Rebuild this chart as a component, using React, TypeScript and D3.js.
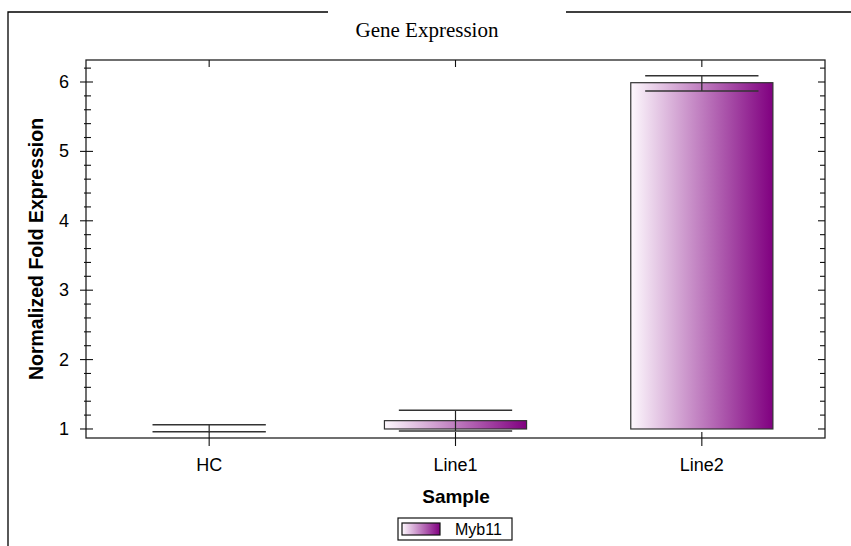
import React from "react";
import * as d3 from "d3";

const samples = ["HC", "Line1", "Line2"];
const foldValues = [1.0, 1.12, 5.99];
const errUpper = [1.06, 1.27, 6.09];
const errLower = [0.96, 0.97, 5.87];
const yTicks = [1, 2, 3, 4, 5, 6];
const seriesName = "Myb11";

const W = 851;
const H = 546;
const left = 86, right = 825, top = 60, bottom = 438;
const sans = "'Liberation Sans', Arial, sans-serif";

export default function App() {
  const ref = React.useRef<SVGSVGElement>(null);

  React.useEffect(() => {
    const svg = d3.select(ref.current);
    svg.selectAll("*").remove();

    const x = d3.scaleBand<string>().domain(samples).range([left, right]).padding(0);
    const y = d3.scaleLinear().domain([0.87, 6.317]).range([bottom, top]);

    const defs = svg.append("defs");
    const grad = defs.append("linearGradient").attr("id", "purpleGrad")
      .attr("x1", "0%").attr("x2", "100%").attr("y1", "0%").attr("y2", "0%");
    grad.append("stop").attr("offset", "0%").attr("stop-color", "#fdf8fd");
    grad.append("stop").attr("offset", "100%").attr("stop-color", "#800080");

    // outer frame
    svg.append("path")
      .attr("d", `M8,546 L8,12 L328,12 M566,12 L851,12`)
      .attr("fill", "none").attr("stroke", "#000").attr("stroke-width", 1.3);

    svg.append("text")
      .attr("x", 427).attr("y", 37)
      .attr("text-anchor", "middle")
      .attr("font-family", "'Liberation Serif', 'Times New Roman', serif")
      .attr("font-size", 21)
      .text("Gene Expression");

    // plot box
    svg.append("rect")
      .attr("x", left).attr("y", top).attr("width", right - left).attr("height", bottom - top)
      .attr("fill", "none").attr("stroke", "#222").attr("stroke-width", 1.3);

    // bars
    const barW = x.bandwidth() * 0.577;
    const capW = x.bandwidth() * 0.46;
    const g = svg.append("g");
    g.selectAll("rect.bar").data(samples).enter().append("rect")
      .attr("class", "bar")
      .attr("x", d => (x(d) as number) + x.bandwidth() / 2 - barW / 2)
      .attr("width", barW)
      .attr("y", (d, i) => y(Math.max(foldValues[i], 1)))
      .attr("height", (d, i) => Math.abs(y(1) - y(foldValues[i])))
      .attr("fill", "url(#purpleGrad)")
      .attr("stroke", "#333").attr("stroke-width", 1.2);

    // error bars
    samples.forEach((d, i) => {
      const cx = (x(d) as number) + x.bandwidth() / 2;
      g.append("line").attr("x1", cx).attr("x2", cx)
        .attr("y1", y(errUpper[i])).attr("y2", y(errLower[i]))
        .attr("stroke", "#222").attr("stroke-width", 1.2);
      [errUpper[i], errLower[i]].forEach(v => {
        g.append("line").attr("x1", cx - capW / 2).attr("x2", cx + capW / 2)
          .attr("y1", y(v)).attr("y2", y(v))
          .attr("stroke", "#333").attr("stroke-width", 1.4);
      });
    });

    // y axis ticks
    const minor = d3.range(0.2, 6.31, 0.2).filter(v => v > 0.87 && Math.abs(v - Math.round(v)) > 0.01);
    const ax = svg.append("g").attr("stroke", "#111").attr("stroke-width", 1.1);
    minor.forEach(v => {
      ax.append("line").attr("x1", left - 2).attr("x2", left + 5).attr("y1", y(v)).attr("y2", y(v));
      ax.append("line").attr("x1", right - 5).attr("x2", right).attr("y1", y(v)).attr("y2", y(v));
    });
    yTicks.forEach(v => {
      ax.append("line").attr("x1", left - 6).attr("x2", left + 7).attr("y1", y(v)).attr("y2", y(v));
      ax.append("line").attr("x1", right - 7).attr("x2", right).attr("y1", y(v)).attr("y2", y(v));
    });
    svg.append("g").selectAll("text").data(yTicks).enter().append("text")
      .attr("x", left - 17).attr("y", d => y(d) + 6)
      .attr("text-anchor", "end")
      .attr("font-family", sans).attr("font-size", 18)
      .text(d => d);

    // x axis ticks
    samples.forEach(d => {
      const cx = (x(d) as number) + x.bandwidth() / 2;
      ax.append("line").attr("x1", cx).attr("x2", cx).attr("y1", bottom - 6).attr("y2", bottom + 8);
      ax.append("line").attr("x1", cx).attr("x2", cx).attr("y1", top).attr("y2", top + 7);
    });
    svg.append("g").selectAll("text").data(samples).enter().append("text")
      .attr("x", d => (x(d) as number) + x.bandwidth() / 2).attr("y", 471)
      .attr("text-anchor", "middle")
      .attr("font-family", sans).attr("font-size", 18)
      .text(d => d);

    // axis titles
    svg.append("text")
      .attr("x", 456).attr("y", 503)
      .attr("text-anchor", "middle")
      .attr("font-family", sans).attr("font-size", 19).attr("font-weight", "bold")
      .text("Sample");
    svg.append("text")
      .attr("transform", `translate(43,249) rotate(-90)`)
      .attr("text-anchor", "middle")
      .attr("font-family", sans).attr("font-size", 19.5).attr("font-weight", "bold")
      .text("Normalized Fold Expression");

    // legend
    const lg = svg.append("g");
    lg.append("rect").attr("x", 398).attr("y", 518).attr("width", 114).attr("height", 22)
      .attr("fill", "#fff").attr("stroke", "#111").attr("stroke-width", 1.2);
    lg.append("rect").attr("x", 402).attr("y", 523).attr("width", 38).attr("height", 12)
      .attr("fill", "url(#purpleGrad)").attr("stroke", "#111").attr("stroke-width", 1.2);
    lg.append("text").attr("x", 455).attr("y", 535)
      .attr("font-family", sans).attr("font-size", 16)
      .text(seriesName);
  }, []);

  return (
    <svg ref={ref} width={W} height={H} viewBox={`0 0 ${W} ${H}`}
      style={{ position: "absolute", left: 0, top: 0, background: "#fff" }}></svg>
  );
}
